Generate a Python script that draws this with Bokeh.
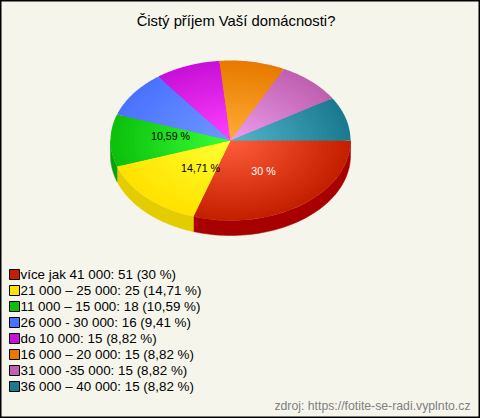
import numpy as np
from bokeh.plotting import figure
from bokeh.models import ColumnDataSource, Range1d
from bokeh.core.properties import value
from bokeh.embed import file_html
from bokeh.resources import INLINE

title = "Čistý příjem Vaší domácnosti?"
categories = ["více jak 41 000", "21 000 – 25 000", "11 000 – 15 000", "26 000 - 30 000",
              "do 10 000", "16 000 – 20 000", "31 000 -35 000", "36 000 – 40 000"]
counts = [51, 25, 18, 16, 15, 15, 15, 15]
percent_text = ["30", "14,71", "10,59", "9,41", "8,82", "8,82", "8,82", "8,82"]
outer_colors = ["#c42000", "#ffe200", "#0cc00c", "#4a72ff", "#c810d8", "#e87a00", "#c060b0", "#1a7a90"]
inner_colors = ["#ff5c3c", "#ffff30", "#38ff38", "#7098ff", "#ff40ff", "#ffac34", "#ec9cec", "#54b4cc"]
wall_colors = ["#a80000", "#e3cc00", "#0aa00a"]
source_note = "zdroj: https://fotite-se-radi.vyplnto.cz"
BG = "#f5f5ec"
FONT = "Liberation Sans"

W, H = 480, 418
CX, CY, RX, RY, DEPTH = 230, 140, 120, 80, 15

p = figure(width=W, height=H, output_backend="svg", toolbar_location=None,
           x_range=Range1d(0, W), y_range=Range1d(H, 0),
           min_border=0, background_fill_color=BG, border_fill_color=BG,
           outline_line_color="black", outline_line_width=2)
p.axis.visible = False
p.grid.visible = False

fractions = np.array(counts) / sum(counts)
edges = np.concatenate([[0], np.cumsum(fractions)]) * 2 * np.pi


def hex2rgb(h):
    return np.array([int(h[i:i + 2], 16) for i in (1, 3, 5)], float)


def mix(a, b, t):
    c = hex2rgb(a) * (1 - t) + hex2rgb(b) * t
    return "#%02x%02x%02x" % tuple(int(round(v)) for v in c)


# side wall of the front half of the pie
wx, wy, wc = [], [], []
for i, col in enumerate(wall_colors):
    a0, a1 = edges[i], min(edges[i + 1], np.pi)
    t = np.linspace(a0, a1, 60)
    xs = CX + RX * np.cos(t)
    ys = CY + RY * np.sin(t)
    wx.append(np.concatenate([xs, xs[::-1]]))
    wy.append(np.concatenate([ys, ys[::-1] + DEPTH]))
    wc.append(col)
p.patches("x", "y", source=ColumnDataSource(dict(x=wx, y=wy, c=wc)),
          fill_color="c", line_color="c", line_width=0.5)

# top face: nested wedges shade each slice from rim to centre
STEPS = 26
px, py, pc = [], [], []
for s in range(STEPS):
    k = 1 - s / STEPS
    for i in range(len(counts)):
        t = np.linspace(edges[i], edges[i + 1], 50)
        px.append(np.concatenate([[CX], CX + k * RX * np.cos(t)]))
        py.append(np.concatenate([[CY], CY + k * RY * np.sin(t)]))
        pc.append(mix(outer_colors[i], inner_colors[i], s / (STEPS - 1)))
p.patches("x", "y", source=ColumnDataSource(dict(x=px, y=py, c=pc)),
          fill_color="c", line_color=None)

# title
p.text([235.5], [20], text=[title], text_font=value(FONT), text_font_size="14.8px",
       text_color="black", text_align="center", text_baseline="middle")

# slice labels
p.text([263, 200, 170], [170, 167, 135],
       text=[f"{percent_text[i]} %" for i in range(3)],
       text_color=["white", "black", "black"], text_font=value(FONT), text_font_size="10.67px",
       text_align="center", text_baseline="middle")

# legend
rows = [274 + 16 * i for i in range(len(categories))]
p.rect([14] * len(rows), rows, width=10, height=10, fill_color=outer_colors,
       line_color="black", line_width=1)
p.text([20] * len(rows), rows,
       text=[f"{c}: {n} ({q} %)" for c, n, q in zip(categories, counts, percent_text)],
       text_font=value(FONT), text_font_size="13.4px", text_color="black",
       text_align="left", text_baseline="middle")

# source note
p.text([470], [405], text=[source_note], text_font=value(FONT), text_font_size="12.25px",
       text_color="#808080", text_align="right", text_baseline="middle")

open("out.html", "w").write(file_html(p, INLINE))
